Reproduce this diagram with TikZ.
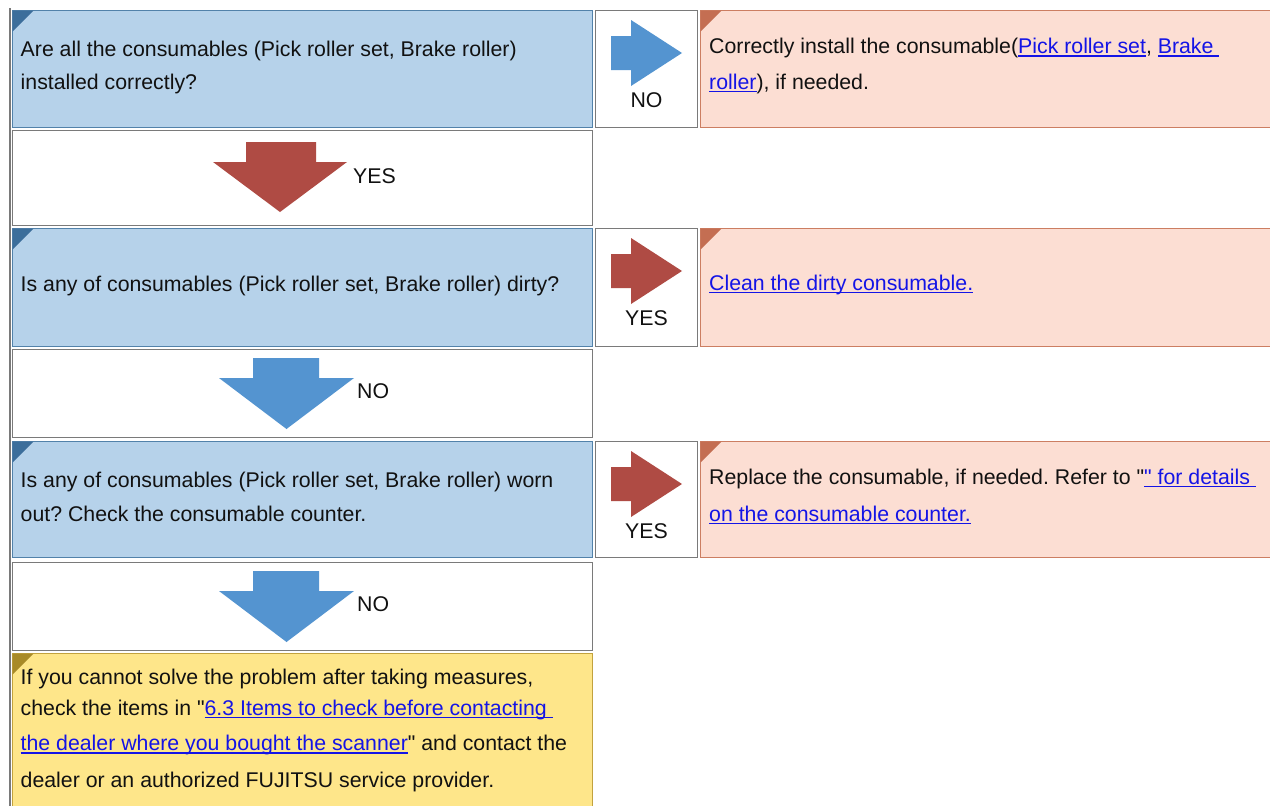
\documentclass[tikz,border=0pt]{standalone}
\usepackage{fontspec}
\setmainfont{Liberation Sans}[Ligatures=TeXOff]
\frenchspacing
\definecolor{qfill}{HTML}{B6D2EA}
\definecolor{qline}{HTML}{5282AA}
\definecolor{qcorner}{HTML}{3C6E9B}
\definecolor{pfill}{HTML}{FCDED3}
\definecolor{pline}{HTML}{CC7E62}
\definecolor{pcorner}{HTML}{C46E52}
\definecolor{yfill}{HTML}{FEE68A}
\definecolor{yline}{HTML}{C2A23E}
\definecolor{ycorner}{HTML}{A88A28}
\definecolor{gline}{HTML}{7A7A7A}
\definecolor{redarr}{HTML}{AF4B44}
\definecolor{bluearr}{HTML}{5494D0}
\definecolor{linkc}{HTML}{1414E6}
\definecolor{txtc}{HTML}{111111}
\newcommand\lnk[1]{{\color{linkc}\setbox0\hbox{#1}\rlap{\rule[-3pt]{\wd0}{1.3pt}}\box0}}
\newcommand\rarr[2]{\fill[#1] (611,#2+26) -- (631,#2+26) -- (631,#2+10) -- (682,#2+43) -- (631,#2+76) -- (631,#2+60) -- (611,#2+60) -- cycle;}
\begin{document}
\begin{tikzpicture}[x=1pt,y=-1pt,
  every node/.style={font=\fontsize{21.3}{25}\selectfont, text=txtc},
  box/.style={draw, line width=1.8pt, anchor=north west, inner sep=0pt, outer sep=0pt},
  qbox/.style={box, fill=qfill, draw=qline},
  wbox/.style={box, fill=white, draw=gline},
  pbox/.style={box, fill=pfill, draw=pline},
  ybox/.style={box, fill=yfill, draw=yline},
  txt/.style={anchor=base west, inner sep=0pt},
  lbl/.style={anchor=base, inner sep=0pt},
  lblw/.style={anchor=base west, inner sep=0pt}]
\useasboundingbox (0,0) rectangle (1270,806);
\clip (0,0) rectangle (1270,806);
\fill[white] (0,0) rectangle (1270,806);
% outer table border
\draw[gline, line width=2pt] (10,8) -- (10,810);
% row 1
\node[qbox, minimum width=580pt, minimum height=117pt] (q1) at (12.5,10.5) {};
\node[wbox, minimum width=102pt, minimum height=117pt] (a1) at (595.5,10.5) {};
\node[pbox, minimum width=600pt, minimum height=117pt] (p1) at (700.5,10.5) {};
% row 2
\node[wbox, minimum width=580pt, minimum height=95pt] (w2) at (12.5,130.5) {};
% row 3
\node[qbox, minimum width=580pt, minimum height=118pt] (q3) at (12.5,228.5) {};
\node[wbox, minimum width=102pt, minimum height=118pt] (a3) at (595.5,228.5) {};
\node[pbox, minimum width=600pt, minimum height=118pt] (p3) at (700.5,228.5) {};
% row 4
\node[wbox, minimum width=580pt, minimum height=88pt] (w4) at (12.5,349.5) {};
% row 5
\node[qbox, minimum width=580pt, minimum height=116pt] (q5) at (12.5,441.5) {};
\node[wbox, minimum width=102pt, minimum height=116pt] (a5) at (595.5,441.5) {};
\node[pbox, minimum width=600pt, minimum height=116pt] (p5) at (700.5,441.5) {};
% row 6
\node[wbox, minimum width=580pt, minimum height=88pt] (w6) at (12.5,562.5) {};
% row 7
\node[ybox, minimum width=580pt, minimum height=170pt] (y7) at (12.5,653.5) {};
% corner triangles
\foreach \n in {q1,q3,q5}{\fill[qcorner] (\n.north west) -- ++(21,0) -- ++(-21,21) -- cycle;}
\foreach \n in {p1,p3,p5}{\fill[pcorner] (\n.north west) -- ++(21,0) -- ++(-21,21) -- cycle;}
\fill[ycorner] (y7.north west) -- ++(21,0) -- ++(-21,21) -- cycle;
% right arrows
\rarr{bluearr}{10}
\rarr{redarr}{228}
\rarr{redarr}{441}
\node[lbl] (l1) at (646.5,107) {NO};
\node[lbl] (l3) at (646.5,325) {YES};
\node[lbl] (l5) at (646.5,538) {YES};
% down arrows
\fill[redarr] (246,142) -- (316,142) -- (316,162) -- (347,162) -- (280,212) -- (213,162) -- (246,162) -- cycle;
\node[lblw] (l2) at (353,183.3) {YES};
\fill[bluearr] (253,358) -- (319,358) -- (319,378) -- (354,378) -- (286.5,429) -- (219,378) -- (253,378) -- cycle;
\node[lblw] (l4) at (357,398.7) {NO};
\fill[bluearr] (253,571) -- (319,571) -- (319,591) -- (354,591) -- (286.5,642) -- (219,591) -- (253,591) -- cycle;
\node[lblw] (l6) at (357,611.7) {NO};
% texts row 1
\node[txt] (q1a) at (20.5,56) {Are all the consumables (Pick roller set, Brake roller)};
\node[txt] (q1b) at (20.5,89) {installed correctly?};
\node[txt] (p1a) at (709,53.5) {Correctly install the consumable(\lnk{Pick roller set}, \lnk{Brake }};
\node[txt] (p1b) at (709,89) {\lnk{roller}), if needed.};
% row 3
\node[txt] (q3a) at (20.5,291) {Is any of consumables (Pick roller set, Brake roller) dirty?};
\node[txt] (p3a) at (709,290) {\lnk{Clean the dirty consumable.}};
% row 5
\node[txt] (q5a) at (20.5,487.5) {Is any of consumables (Pick roller set, Brake roller) worn};
\node[txt] (q5b) at (20.5,521) {out? Check the consumable counter.};
\node[txt] (p5a) at (709,484) {Replace the consumable, if needed. Refer to "\lnk{" for details }};
\node[txt] (p5b) at (709,521) {\lnk{on the consumable counter.}};
% row 7
\node[txt] (y7a) at (20.5,684) {If you cannot solve the problem after taking measures,};
\node[txt] (y7b) at (20.5,715) {check the items in "\lnk{6.3 Items to check before contacting }};
\node[txt] (y7c) at (20.5,750.5) {\lnk{the dealer where you bought the scanner}" and contact the};
\node[txt] (y7d) at (20.5,787.5) {dealer or an authorized FUJITSU service provider.};
\end{tikzpicture}
\end{document}
